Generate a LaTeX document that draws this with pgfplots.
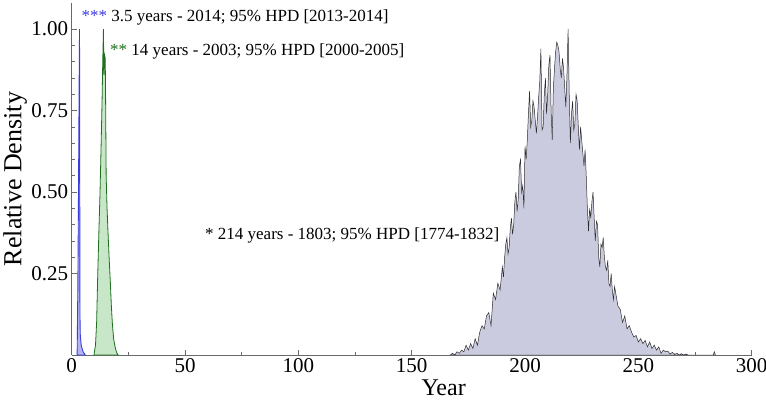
\documentclass[border=0pt]{standalone}
\usepackage{pgfplots}
\pgfplotsset{compat=1.18}
\usepackage{fontspec}
\setmainfont{Liberation Serif}

\definecolor{axgray}{RGB}{105,105,105}
\definecolor{bline}{RGB}{60,60,225}
\definecolor{bfill}{RGB}{180,180,240}
\definecolor{gline}{RGB}{30,110,30}
\definecolor{gfill}{RGB}{200,230,200}
\definecolor{pfill}{RGB}{203,203,224}
\definecolor{pline}{RGB}{45,45,45}

% 3.5-year clade
\pgfplotstableread{
x y
2.4 0
2.7 0.2
3.0 0.5
3.3 0.85
3.45 1.0
3.55 0.6
3.6 0.3
3.65 0.12
3.8 0.06
4.2 0.03
5.0 0.01
6.0 0
}\bluetab

% 14-year clade
\pgfplotstableread{
x y
9.8 0
10.5 0.03
11.0 0.1
11.5 0.25
12.0 0.38
12.5 0.5
13.0 0.65
13.4 0.78
13.7 0.9
14.0 1.0
14.2 0.86
14.5 0.92
14.8 0.91
15.0 0.75
15.2 0.55
15.6 0.45
16.0 0.38
16.5 0.3
17.0 0.23
17.5 0.15
18.0 0.09
18.5 0.05
19.0 0.03
19.5 0.015
20.0 0.005
20.5 0
}\greentab

% 214-year clade
\pgfplotstableread{
x y
167 0
168 0.005
169 0
170 0.01
171 0.005
172 0.015
173 0.01
174 0.03
175 0.015
176 0.035
177 0.02
178 0.05
179 0.03
180 0.07
181 0.09
182 0.08
183 0.12
184 0.13
185 0.09
186 0.19
187 0.17
188 0.22
189 0.20
190 0.27
190.5 0.24
191 0.30
191.5 0.34
192 0.36
192.5 0.31
193 0.33
193.5 0.39
194 0.42
194.5 0.37
195 0.40
195.5 0.47
196 0.50
196.5 0.44
197 0.48
197.5 0.58
198 0.60
198.5 0.50
199 0.52
199.5 0.45
200 0.64
200.5 0.60
201 0.66
201.5 0.74
202 0.81
202.5 0.70
203 0.72
203.5 0.78
204 0.76
204.5 0.72
205 0.68
205.5 0.73
206 0.79
206.5 0.84
207 0.94
207.5 0.69
208 0.70
208.5 0.80
209 0.85
209.5 0.74
210 0.80
210.5 0.89
211 0.92
211.5 0.75
212 0.66
212.5 0.82
213 0.88
213.5 0.93
214 0.96
214.5 0.95
215 0.93
215.5 0.88
216 0.85
216.5 0.91
217 0.88
217.5 0.82
218 0.76
218.5 0.86
219 1.00
219.5 0.80
220 0.65
220.5 0.74
221 0.78
221.5 0.69
222 0.71
222.5 0.80
223 0.78
223.5 0.70
224 0.63
224.5 0.70
225 0.66
225.5 0.62
226 0.58
226.5 0.63
227 0.55
227.5 0.45
228 0.38
228.5 0.45
229 0.42
229.5 0.47
230 0.50
230.5 0.42
231 0.35
231.5 0.41
232 0.40
232.5 0.30
233 0.27
233.5 0.34
234 0.33
234.5 0.36
235 0.30
235.5 0.27
236 0.26
236.5 0.29
237 0.22
237.5 0.21
238 0.25
238.5 0.20
239 0.17
239.5 0.21
240 0.19
241 0.15
242 0.14
243 0.10
244 0.12
245 0.08
246 0.09
247 0.07
248 0.055
249 0.06
250 0.04
251 0.05
252 0.035
253 0.045
254 0.025
255 0.04
256 0.02
257 0.03
258 0.015
259 0.025
260 0.005
261 0.015
262 0.01
263 0.012
264 0.003
265 0.008
266 0.002
267 0.005
268 0
269 0.004
270 0
271 0.003
272 0
283 0
283.5 0.01
284 0
}\purpletab

\begin{document}
\begin{tikzpicture}
\path[use as bounding box] (0,0) rectangle (766bp,410bp);
\begin{axis}[
    at={(71.7bp,55bp)}, anchor=south west,
    scale only axis, width=680bp, height=352bp,
    xmin=0, xmax=300, ymin=0, ymax=1.08,
    axis lines*=left,
    axis line style={axgray, line width=0.6pt},
    xtick={0,50,...,300},
    ytick={0.25,0.5,0.75,1},
    minor x tick num=1, minor y tick num=4,
    tick align=inside,
    major tick length=5bp, minor tick length=3bp,
    tick style={axgray, line width=0.5pt},
    /pgf/number format/assume math mode=true,
    yticklabel style={/pgf/number format/.cd, fixed, fixed zerofill, precision=2},
    ticklabel style={font=\fontsize{21bp}{24bp}\selectfont},
    xlabel={Year}, ylabel={Relative Density},
    xlabel style={font=\fontsize{24bp}{28bp}\selectfont, at={(axis description cs:0.547,-0.094)}, anchor=center},
    ylabel style={font=\fontsize{26bp}{30bp}\selectfont, at={(axis description cs:-0.083,0.5)}, anchor=center, rotate=0},
    clip=false
]
    \addplot[draw=pline, line width=0.5pt, fill=pfill] table {\purpletab} -- cycle;
    \addplot[draw=gline, line width=0.8pt, fill=gfill] table {\greentab} -- cycle;
    \addplot[draw=bline, line width=0.9pt, fill=bfill] table {\bluetab} -- cycle;

    \node[anchor=west, inner sep=0pt, font=\fontsize{17bp}{20bp}\selectfont]
        at (axis cs:4.3,1.037) {\textcolor{bline}{***} 3.5 years - 2014; 95\% HPD [2013-2014]};
    \node[anchor=west, inner sep=0pt, font=\fontsize{17bp}{20bp}\selectfont]
        at (axis cs:16.9,0.93) {\textcolor{gline}{**} 14 years - 2003; 95\% HPD [2000-2005]};
    \node[anchor=west, inner sep=0pt, font=\fontsize{17bp}{20bp}\selectfont]
        at (axis cs:58.8,0.368) {* 214 years - 1803; 95\% HPD [1774-1832]};
\end{axis}
\end{tikzpicture}
\end{document}
